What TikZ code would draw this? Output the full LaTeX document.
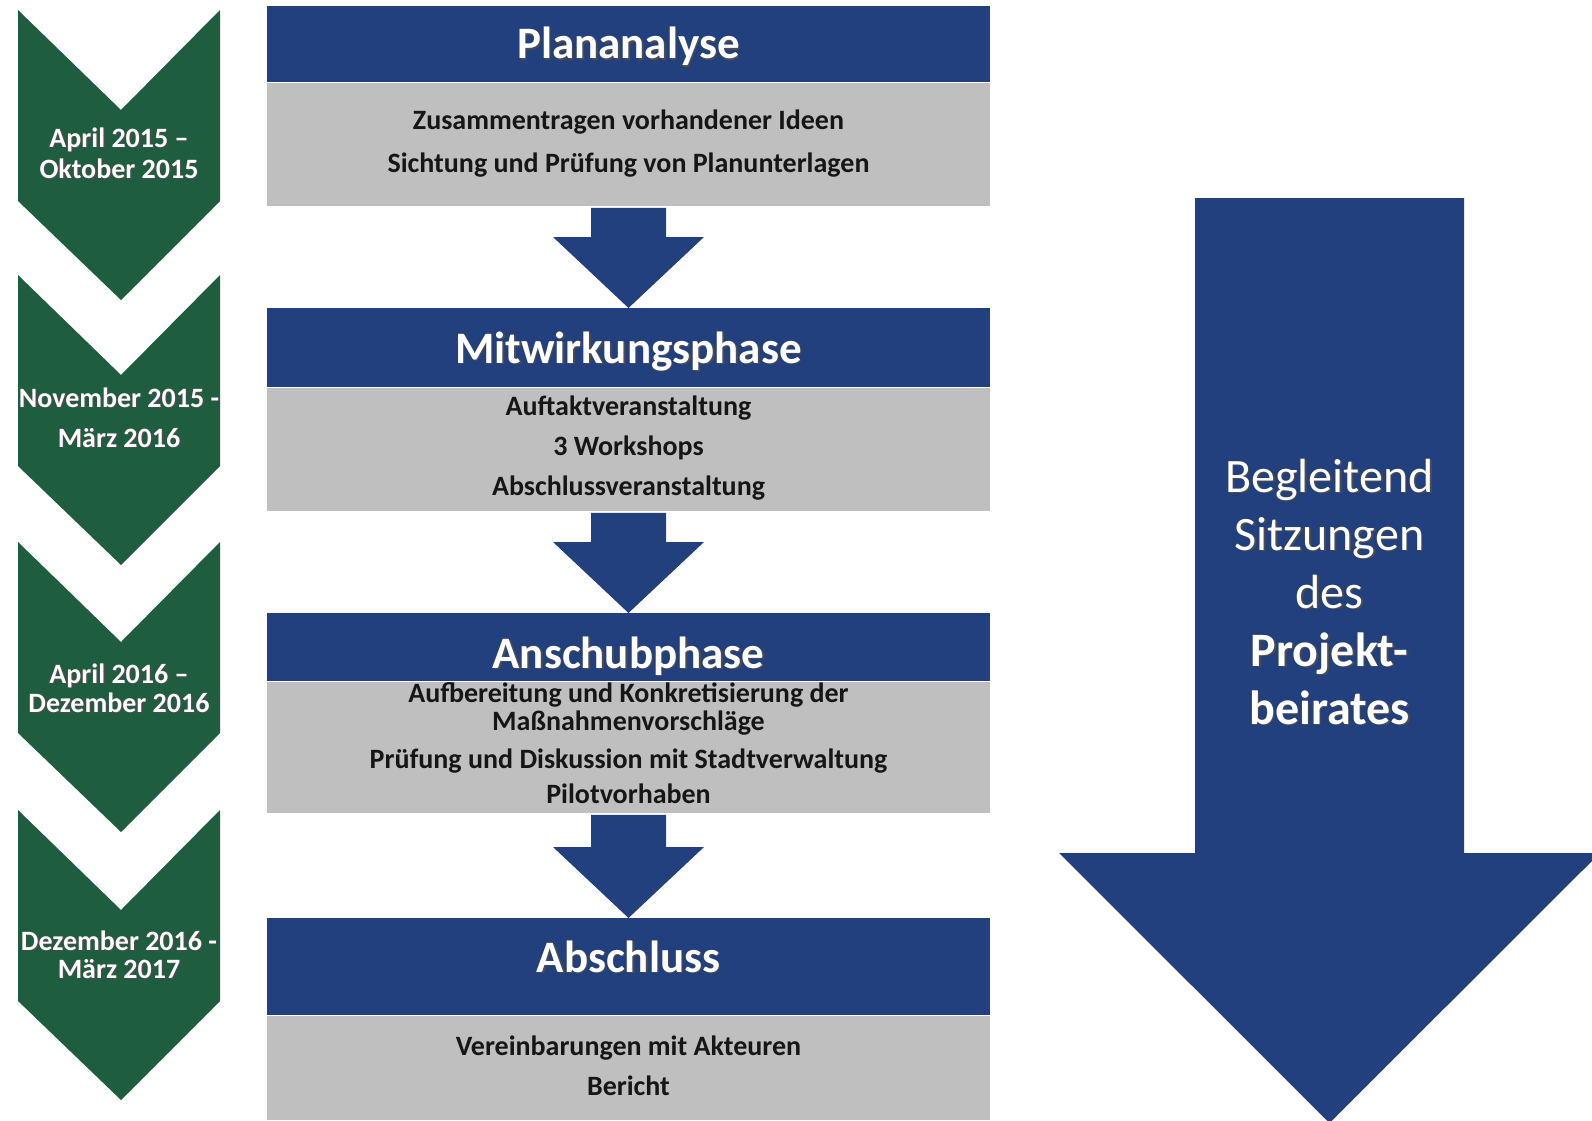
\documentclass[tikz,border=0pt]{standalone}
\usepackage{fontspec}
\setmainfont{Carlito}
\usetikzlibrary{calc}

\definecolor{phasegreen}{HTML}{1E5E3F}
\definecolor{phaseblue}{HTML}{21407D}
\definecolor{panelgrey}{HTML}{BFBFBF}
\definecolor{itemink}{HTML}{161616}

% white lettering with a soft dark drop shadow
\newcommand\shadowed[1]{\makebox[0pt][l]{\kern1.6pt\raisebox{-1.6pt}{\textcolor{black!70}{#1}}}#1}

\begin{document}
\begin{tikzpicture}[x=1pt,y=-1pt,
  chevron/.style={fill=phasegreen},
  datelabel/.style={anchor=base,text=white,inner sep=0pt,
    font=\bfseries\fontsize{28}{30}\selectfont},
  titlebar/.style={fill=phaseblue,anchor=north,inner sep=0pt,
    minimum width=723pt,minimum height=#1},
  panel/.style={fill=panelgrey,anchor=north,inner sep=0pt,
    minimum width=723pt,minimum height=#1},
  titletext/.style={anchor=base,text=white,inner sep=0pt,
    font=\bfseries\fontsize{45}{52}\selectfont},
  itemtext/.style={anchor=base,text=itemink,inner sep=0pt,
    font=\bfseries\fontsize{28}{32}\selectfont},
  sidetext/.style={anchor=base,text=white,inner sep=0pt,
    font=\fontsize{48}{56}\selectfont},
  flowarrow/.style={fill=phaseblue},
]
\useasboundingbox (0,0) rectangle (1592,1121);
\fill[white] (0,0) rectangle (1592,1121);

% time line: four green chevrons
\foreach \t in {10,275,542,810}{
  \fill[chevron] (18,\t) -- (121,\t+100) -- (220,\t) -- (220,\t+191)
    -- (121,\t+290) -- (18,\t+191) -- cycle;
}
\node[datelabel] (d1a) at (119,147) {\shadowed{April 2015 –}};
\node[datelabel] (d1b) at (119,178) {\shadowed{Oktober 2015}};
\node[datelabel] (d2a) at (119,407) {\shadowed{November 2015 -}};
\node[datelabel] (d2b) at (119,447) {\shadowed{März 2016}};
\node[datelabel] (d3a) at (119,683) {\shadowed{April 2016 –}};
\node[datelabel] (d3b) at (119,712) {\shadowed{Dezember 2016}};
\node[datelabel] (d4a) at (119,950) {\shadowed{Dezember 2016 -}};
\node[datelabel] (d4b) at (119,978) {\shadowed{März 2017}};

% phase boxes: blue title bar above a grey panel
\node[titlebar=76pt] (b1) at (628.5,6) {};
\node[panel=123pt] (g1) at (b1.south) {};
\node[titlebar=79pt] (b2) at (628.5,308) {};
\node[panel=123pt] (g2) at (b2.south) {};
\node[titlebar=68pt] (b3) at (628.5,613) {};
\node[panel=131pt] (g3) at (b3.south) {};
\node[titlebar=97pt] (b4) at (628.5,918) {};
\node[panel=104pt] (g4) at (b4.south) {};

\node[titletext] (t1) at (628.5,59) {\shadowed{Plananalyse}};
\node[titletext] (t2) at (628.5,363) {\shadowed{Mitwirkungsphase}};
\node[titletext] (t3) at (628.5,668) {\shadowed{Anschubphase}};
\node[titletext] (t4) at (628.5,972) {\shadowed{Abschluss}};

\node[itemtext] (i11) at (628.5,130) {Zusammentragen vorhandener Ideen};
\node[itemtext] (i12) at (628.5,172) {Sichtung und Prüfung von Planunterlagen};
\node[itemtext] (i21) at (628.5,415) {Auftaktveranstaltung};
\node[itemtext] (i22) at (628.5,455) {3 Workshops};
\node[itemtext] (i23) at (628.5,495) {Abschlussveranstaltung};
\node[itemtext] (i31) at (628.5,702) {Aufbereitung und Konkretisierung der};
\node[itemtext] (i32) at (628.5,730) {Maßnahmenvorschläge};
\node[itemtext] (i33) at (628.5,768) {Prüfung und Diskussion mit Stadtverwaltung};
\node[itemtext] (i34) at (628.5,803) {Pilotvorhaben};
\node[itemtext] (i41) at (628.5,1055) {Vereinbarungen mit Akteuren};
\node[itemtext] (i42) at (628.5,1095) {Bericht};

% block arrows from each panel to the next title bar
\foreach \from/\to in {g1/b2,g2/b3,g3/b4}{
  \fill[flowarrow] ($(\from.south)+(-37.5,2)$) -- ($(\from.south)+(37.5,2)$)
    -- ($(\to.north)+(37.5,-71)$) -- ($(\to.north)+(75.5,-71)$)
    -- (\to.north) -- ($(\to.north)+(-75.5,-71)$)
    -- ($(\to.north)+(-37.5,-71)$) -- cycle;
}

% large accompanying arrow on the right
\coordinate (sidetop) at (1329.5,198);
\coordinate (sidetip) at (1329.5,1123);
\fill[flowarrow] ($(sidetop)+(-134.5,0)$) -- ($(sidetop)+(134.5,0)$)
  -- ($(sidetop)+(134.5,655)$) -- ($(sidetop)+(270.5,655)$)
  -- (sidetip) -- ($(sidetop)+(-270.5,655)$)
  -- ($(sidetop)+(-134.5,655)$) -- cycle;
\node[sidetext] (s1) at (1329.5,492) {\shadowed{Begleitend}};
\node[sidetext] (s2) at (1329.5,550) {\shadowed{Sitzungen}};
\node[sidetext] (s3) at (1329.5,608) {\shadowed{des}};
\node[sidetext,font=\bfseries\fontsize{48}{56}\selectfont] (s4) at (1329.5,666) {\shadowed{Projekt-}};
\node[sidetext,font=\bfseries\fontsize{48}{56}\selectfont] (s5) at (1329.5,724) {\shadowed{beirates}};
\end{tikzpicture}
\end{document}
